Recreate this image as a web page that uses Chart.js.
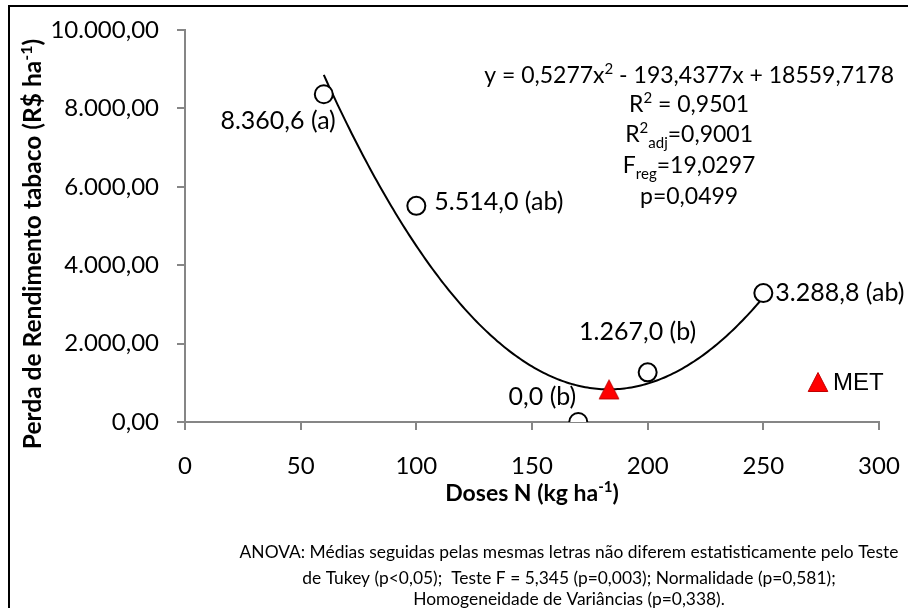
<!DOCTYPE html>
<html><head><meta charset="utf-8">
<script src="https://cdn.jsdelivr.net/npm/chart.js@4/dist/chart.umd.min.js"></script>
<style>html,body{margin:0;padding:0;background:#fff}canvas{display:block}</style>
</head><body>
<canvas id="c" width="908" height="608"></canvas>
<script>
// ---- data ----
const doses = [60, 100, 170, 200, 250];
const losses = [8360.6, 5514.0, 0.0, 1267.0, 3288.8];
const letters = ['(a)', '(ab)', '(b)', '(b)', '(ab)'];
const metDose = [183.3];
const metLoss = [832];
const trendCoef = [18559.7178, -193.4377, 0.5277];
const trendRange = [60, 250];
const xTickValues = [0, 50, 100, 150, 200, 250, 300];
const yTickValues = [0, 2000, 4000, 6000, 8000, 10000];
const statLines = [
  [['y = 0,5277x', 'n'], ['2', 'sup'], [' - 193,4377x + 18559,7178', 'n']],
  [['R', 'n'], ['2', 'sup'], [' = 0,9501', 'n']],
  [['R', 'n'], ['2', 'sup'], ['adj', 'sub'], ['=0,9001', 'n']],
  [['F', 'n'], ['reg', 'sub'], ['=19,0297', 'n']],
  [['p=0,0499', 'n']]
];
const footLines = [
  'ANOVA: Médias seguidas pelas mesmas letras não diferem estatisticamente pelo Teste',
  'de Tukey (p<0,05);  Teste F = 5,345 (p=0,003); Normalidade (p=0,581);',
  'Homogeneidade de Variâncias (p=0,338).'
];

// ---- styles / placement (not data) ----
const labelOffsets = [[12, 27, 'right'], [18, -4, 'left'], [-2, -25, 'right'], [-10, -40, 'center'], [12, 0, 'left']];
const FONT = 'Lato';
const AXIS = '#868686';

function fmt(v, d) {
  const neg = v < 0; v = Math.abs(v);
  let s = v.toFixed(d);
  let [ip, dp] = s.split('.');
  ip = ip.replace(/\B(?=(\d{3})+(?!\d))/g, '.');
  return (neg ? '-' : '') + ip + (d > 0 ? ',' + dp : '');
}

const trendPts = [];
for (let x = trendRange[0]; x <= trendRange[1]; x += 1) {
  trendPts.push({x: x, y: trendCoef[0] + trendCoef[1] * x + trendCoef[2] * x * x});
}

// triangle marker image (bbox centred on the point, like Excel)
function triMarker() {
  const c = document.createElement('canvas');
  c.width = 22; c.height = 22;
  const g = c.getContext('2d');
  g.beginPath();
  g.moveTo(11, 1.5); g.lineTo(20.8, 20.5); g.lineTo(1.2, 20.5); g.closePath();
  g.fillStyle = '#FF0000'; g.fill();
  g.strokeStyle = '#C00000'; g.lineWidth = 1; g.stroke();
  return c;
}
const TRI = triMarker();

function richWidth(ctx, segs, size, weight) {
  let w = 0;
  for (const [t, s] of segs) {
    const fs = s === 'n' ? size : Math.round(size * 0.65);
    ctx.font = weight + ' ' + fs + 'px ' + FONT;
    w += ctx.measureText(t).width;
  }
  return w;
}
function drawRich(ctx, segs, x, y, size, weight) {
  ctx.textBaseline = 'alphabetic';
  ctx.textAlign = 'left';
  let cx = x;
  for (const [t, s] of segs) {
    const fs = s === 'n' ? size : Math.round(size * 0.65);
    ctx.font = weight + ' ' + fs + 'px ' + FONT;
    let dy = 0;
    if (s === 'sup') dy = -size * 0.38;
    if (s === 'sub') dy = size * 0.25;
    ctx.fillText(t, cx, y + dy);
    cx += ctx.measureText(t).width;
  }
}

const extras = {
  id: 'extras',
  afterDraw(chart) {
    const ctx = chart.ctx;
    const xs = chart.scales.x, ys = chart.scales.y;
    const ca = chart.chartArea;
    ctx.save();
    ctx.fillStyle = '#000';
    // point labels
    ctx.font = '25px ' + FONT;
    ctx.textBaseline = 'middle';
    doses.forEach((d, i) => {
      const px = xs.getPixelForValue(d), py = ys.getPixelForValue(losses[i]);
      const [ox, oy, al] = labelOffsets[i];
      ctx.textAlign = al;
      ctx.fillText(fmt(losses[i], 1) + ' ' + letters[i], px + ox, py + oy);
    });
    // stats block
    const sz = 23;
    const w0 = richWidth(ctx, statLines[0], sz, '');
    const cxEq = 894 - w0 / 2;
    const baseY = [83, 112, 142, 173, 204];
    statLines.forEach((segs, i) => {
      const w = richWidth(ctx, segs, sz, '');
      drawRich(ctx, segs, cxEq - w / 2, baseY[i], sz, '');
    });
    // axis titles
    const xt = [['Doses N (kg ha', 'n'], ['-1', 'sup'], [')', 'n']];
    const wx = richWidth(ctx, xt, 23, 'bold');
    drawRich(ctx, xt, (ca.left + ca.right) / 2 - wx / 2, 501, 23, 'bold');
    const yt = [['Perda de Rendimento tabaco (R$ ha', 'n'], ['-1', 'sup'], [')', 'n']];
    const wy = richWidth(ctx, yt, 24.5, 'bold');
    ctx.save();
    ctx.translate(41, 244);
    ctx.rotate(-Math.PI / 2);
    drawRich(ctx, yt, -wy / 2, 0, 24.5, 'bold');
    ctx.restore();
    // legend MET
    const lx = 818, ly = 382;
    ctx.drawImage(TRI, lx - 11, ly - 11);
    ctx.fillStyle = '#000';
    ctx.font = '24px "Liberation Sans", Arial';
    ctx.textAlign = 'left';
    ctx.textBaseline = 'middle';
    ctx.fillText('MET', 833, ly + 1);
    // footnote
    ctx.font = '17.4px ' + FONT;
    ctx.textAlign = 'center';
    ctx.textBaseline = 'middle';
    const fy = [552, 578, 599];
    footLines.forEach((t, i) => ctx.fillText(t, 569, fy[i]));
    // frame
    ctx.strokeStyle = '#000';
    ctx.lineWidth = 2;
    ctx.beginPath();
    ctx.moveTo(9, 612); ctx.lineTo(9, 6); ctx.lineTo(910, 6);
    ctx.stroke();
    ctx.restore();
  }
};

new Chart(document.getElementById('c'), {
  type: 'scatter',
  data: {
    datasets: [
      {
        label: 'Tendência',
        data: trendPts,
        showLine: true,
        borderColor: '#000',
        borderWidth: 2,
        pointRadius: 0,
        fill: false,
        order: 3
      },
      {
        label: 'Perda',
        data: doses.map((d, i) => ({x: d, y: losses[i]})),
        pointStyle: 'circle',
        pointRadius: 9,
        pointBorderWidth: 2,
        pointBackgroundColor: '#fff',
        pointBorderColor: '#000',
        order: 2
      },
      {
        label: 'MET',
        data: metDose.map((d, i) => ({x: d, y: metLoss[i]})),
        pointStyle: TRI,
        pointRadius: 11,
        order: 1
      }
    ]
  },
  options: {
    responsive: false,
    animation: false,
    devicePixelRatio: 1,
    layout: {padding: {left: 10, right: 29, top: 30, bottom: 100}},
    plugins: {legend: {display: false}, tooltip: {enabled: false}},
    scales: {
      x: {
        type: 'linear', min: 0, max: 300,
        afterBuildTicks: s => { s.ticks = xTickValues.map(v => ({value: v})); },
        afterFit: s => { s.height = 86; s.paddingLeft = 0; s.paddingRight = 0; },
        grid: {drawOnChartArea: false, drawTicks: true, tickLength: 8, color: AXIS, lineWidth: 2},
        border: {color: AXIS, width: 2},
        ticks: {color: '#000', font: {family: FONT, size: 24}, padding: 22, maxRotation: 0}
      },
      y: {
        type: 'linear', min: 0, max: 10000,
        afterBuildTicks: s => { s.ticks = yTickValues.map(v => ({value: v})); },
        afterFit: s => { s.width = 175; s.paddingTop = 0; s.paddingBottom = 0; },
        grid: {drawOnChartArea: false, drawTicks: true, tickLength: 8, color: AXIS, lineWidth: 2},
        border: {color: AXIS, width: 2},
        ticks: {color: '#000', font: {family: FONT, size: 24}, padding: 18, callback: v => fmt(v, 2)}
      }
    }
  },
  plugins: [extras]
});
</script>
</body></html>
